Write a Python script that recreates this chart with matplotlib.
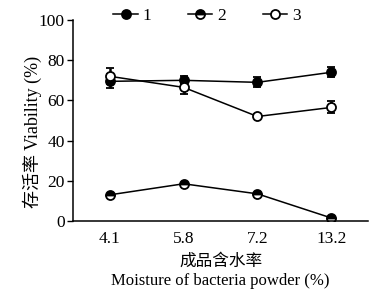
import matplotlib.pyplot as plt
from matplotlib.lines import Line2D
import numpy as np

# moisture categories and viability values
moisture = ['4.1', '5.8', '7.2', '13.2']
viab1 = [69.5, 70, 69, 74]
err1 = [3.5, 2, 2.5, 2.5]
viab2 = [13, 18.5, 13.5, 1.5]
err2 = [0.5, 0.5, 0.5, 0.5]
viab3 = [72, 66.5, 52, 56.5]
err3 = [4, 3.5, 1, 3]

plt.rcParams['font.family'] = ['Liberation Serif', 'Noto Sans CJK SC']
plt.rcParams['font.size'] = 12.5

fig = plt.figure(figsize=(3.7, 2.95), dpi=100)
ax = fig.add_axes([0.197, 0.251, 0.798, 0.681])

x = np.arange(len(moisture))
kw = dict(color='black', lw=1.1, ms=6.5, mew=1.3, capsize=3, elinewidth=1.8, capthick=1.8)
ax.errorbar(x, viab1, yerr=err1, marker='o', mfc='black', **kw)
ax.errorbar(x, viab2, yerr=err2, marker='o', fillstyle='top', mfc='black', mfcalt='white', **kw)
ax.errorbar(x, viab3, yerr=err3, marker='o', mfc='white', **kw)

ax.set_xlim(-0.5, 3.5)
ax.set_ylim(0, 100)
ax.set_xticks(x)
ax.set_xticklabels(moisture)
ax.set_yticks([0, 20, 40, 60, 80, 100])
ax.tick_params(axis='x', length=0, pad=7)
ax.tick_params(axis='y', direction='out', length=4, width=1, pad=2)
for s in ['top', 'right']:
    ax.spines[s].set_visible(False)
for s in ['left', 'bottom']:
    ax.spines[s].set_linewidth(1.1)

ax.set_ylabel('存活率 Viability (%)', fontsize=13)
ax.yaxis.set_label_coords(-0.105, 0.443)
ax.set_xlabel('成品含水率\nMoisture of bacteria powder (%)', fontsize=12, labelpad=5, linespacing=1.3)

lk = dict(color='black', lw=1.1, ms=6.5, mew=1.3, marker='o')
handles = [Line2D([], [], mfc='black', **lk),
           Line2D([], [], fillstyle='top', mfc='black', mfcalt='white', **lk),
           Line2D([], [], mfc='white', **lk)]
fig.legend(handles, ['1', '2', '3'], loc='center', bbox_to_anchor=(0.56, 0.945), ncol=3,
           frameon=False, numpoints=1, handlelength=1.4, handletextpad=0.3,
           columnspacing=2.1, fontsize=12.5)

fig.savefig('out.png', dpi=100)
